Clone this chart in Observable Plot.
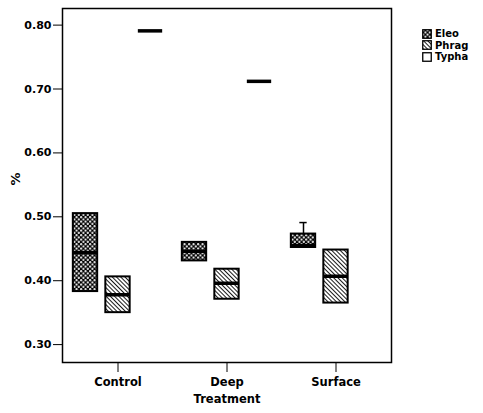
<!DOCTYPE html>
<html>
<head>
<meta charset="utf-8">
<script src="https://cdn.jsdelivr.net/npm/d3@7"></script>
<script src="https://cdn.jsdelivr.net/npm/@observablehq/plot@0.6"></script>
<style>
  body { margin: 0; background: #fff; }
  #wrap { position: relative; width: 483px; height: 413px; font-family: "DejaVu Sans", sans-serif; font-weight: bold; }
  #legend { position: absolute; left: 422px; top: 28px; font-size: 10px; }
  #legend .row { display: flex; align-items: center; height: 11.5px; }
  #legend svg { margin-right: 3px; }
</style>
</head>
<body>
<div id="wrap"><div id="legend"></div></div>
<script>
const treatments = ["Control", "Deep", "Surface"];
const species = ["Eleo", "Phrag", "Typha"];
const yTicks = [0.30, 0.40, 0.50, 0.60, 0.70, 0.80];
const yLabel = ["%"];

// box statistics per species, one value per treatment (null = absent)
const eleoQ1 = [0.383, 0.431, 0.452];
const eleoMedian = [0.444, 0.446, 0.455];
const eleoQ3 = [0.505, 0.460, 0.473];
const eleoWhiskerHigh = [null, null, 0.491];

const phragQ1 = [0.350, 0.371, 0.365];
const phragMedian = [0.378, 0.396, 0.407];
const phragQ3 = [0.406, 0.418, 0.448];
const phragWhiskerHigh = [null, null, null];

const typhaQ1 = [0.791, 0.712, null];
const typhaMedian = [0.791, 0.712, null];
const typhaQ3 = [0.791, 0.712, null];
const typhaWhiskerHigh = [null, null, null];

const stats = {
  Eleo: [eleoQ1, eleoMedian, eleoQ3, eleoWhiskerHigh],
  Phrag: [phragQ1, phragMedian, phragQ3, phragWhiskerHigh],
  Typha: [typhaQ1, typhaMedian, typhaQ3, typhaWhiskerHigh]
};
const fills = {Eleo: "url(#pat-eleo)", Phrag: "url(#pat-phrag)", Typha: "white"};

const W = 483, H = 413;
const mL = 62, mR = 92, mT = 8, mB = 51;
const bandW = (W - mL - mR) / treatments.length;
const boxW = 25, subStep = 32.5, capW = 8;
const inset = (bandW - boxW) / 2;
const capInset = (bandW - capW) / 2;

const marks = [];
species.forEach((s, k) => {
  const [q1, med, q3, hi] = stats[s];
  const data = treatments.map((t, i) => ({treatment: t, q1: q1[i], med: med[i], q3: q3[i], hi: hi[i]}))
    .filter(d => d.med != null);
  const whisk = data.filter(d => d.hi != null);
  const dx = (k - 1) * subStep;
  marks.push(
    Plot.ruleX(whisk, {x: "treatment", y1: "q3", y2: "hi", dx, stroke: "black", strokeWidth: 1.5}),
    Plot.tickY(whisk, {x: "treatment", y: "hi", dx, insetLeft: capInset, insetRight: capInset, stroke: "black", strokeWidth: 1.5}),
    Plot.barY(data, {x: "treatment", y1: "q1", y2: "q3", dx, insetLeft: inset, insetRight: inset, fill: fills[s], stroke: "black", strokeWidth: 2}),
    Plot.tickY(data, {x: "treatment", y: "med", dx, insetLeft: inset, insetRight: inset, stroke: "black", strokeWidth: 3.5})
  );
});

const chart = Plot.plot({
  width: W, height: H,
  marginLeft: mL, marginRight: mR, marginTop: mT, marginBottom: mB,
  style: {fontFamily: "DejaVu Sans, sans-serif", fontWeight: "bold", background: "white", color: "black"},
  x: {domain: treatments, padding: 0},
  y: {domain: [0.272, 0.826]},
  marks: [
    ...marks,
    Plot.frame({stroke: "black", strokeWidth: 1.5}),
    Plot.axisY({ticks: yTicks, tickFormat: d3.format(".2f"), tickSize: 9, tickPadding: 2, fontSize: 11, label: null}),
    Plot.text(yLabel, {text: d => d, frameAnchor: "left", dx: -47, rotate: -90, fontSize: 13, fontWeight: "bold"}),
    Plot.axisX({tickSize: 10, tickPadding: 5, fontSize: 11.5,
      label: "Treatment", labelAnchor: "center", labelOffset: 40, labelArrow: false})
  ]
});

const defs = `
<defs>
  <pattern id="pat-eleo" patternUnits="userSpaceOnUse" width="4.5" height="4.5">
    <rect width="4.5" height="4.5" fill="black"/>
    <circle cx="1.1" cy="1.1" r="1.05" fill="white"/>
    <circle cx="3.35" cy="3.35" r="1.05" fill="white"/>
  </pattern>
  <pattern id="pat-phrag" patternUnits="userSpaceOnUse" width="3" height="3" patternTransform="rotate(-45)">
    <rect width="3" height="3" fill="white"/>
    <line x1="0" y1="0" x2="0" y2="3" stroke="black" stroke-width="1.8"/>
  </pattern>
</defs>`;
chart.insertAdjacentHTML("afterbegin", defs);
document.getElementById("wrap").prepend(chart);

const legend = document.getElementById("legend");
species.forEach(s => {
  const row = document.createElement("div");
  row.className = "row";
  row.innerHTML = `<svg width="10" height="10"><rect x="0.75" y="0.75" width="8.5" height="8.5" fill="${fills[s]}" stroke="black" stroke-width="1.3"/></svg><span>${s}</span>`;
  legend.appendChild(row);
});
</script>
</body>
</html>
